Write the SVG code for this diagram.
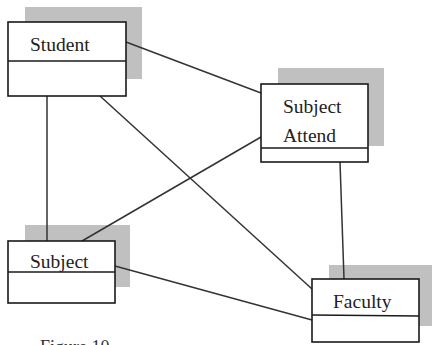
<svg xmlns="http://www.w3.org/2000/svg" width="432" height="345" viewBox="0 0 432 345">
<style>
.shadow{fill:#c0c0c0;stroke:none}
.box{fill:#fff;stroke:#1a1a1a;stroke-width:1.6}
.div{stroke:#1a1a1a;stroke-width:1.6}
.lbl{font-family:"Liberation Serif","Times New Roman",serif;font-size:19.5px;fill:#222}
.conn line{stroke:#333;stroke-width:1.5}
</style>
<rect width="432" height="345" fill="#fff"/>
<g id="shadows">
<rect class="shadow" x="25" y="7" width="117" height="72"/>
<rect class="shadow" x="278" y="68" width="106" height="78"/>
<rect class="shadow" x="25" y="225" width="105" height="62"/>
<rect class="shadow" x="329" y="265" width="103" height="61"/>
</g>
<g id="connectors" class="conn">
<line x1="126" y1="42" x2="261" y2="93"/>
<line x1="47" y1="96" x2="47" y2="241"/>
<line x1="100" y1="96" x2="312" y2="289"/>
<line x1="261" y1="137" x2="82" y2="241"/>
<line x1="340" y1="162" x2="344" y2="279"/>
<line x1="115" y1="266" x2="312" y2="320"/>
</g>
<g id="student">
<rect class="box" x="8" y="22" width="118" height="74"/>
<line class="div" x1="8" y1="61" x2="126" y2="61"/>
<text class="lbl" x="30" y="51">Student</text>
</g>
<g id="subject-attend">
<rect class="box" x="261" y="84" width="107" height="78"/>
<line class="div" x1="261" y1="148" x2="368" y2="148"/>
<text class="lbl" x="283" y="113">Subject</text>
<text class="lbl" x="283" y="142">Attend</text>
</g>
<g id="subject">
<rect class="box" x="8" y="241" width="107" height="62"/>
<line class="div" x1="8" y1="272" x2="115" y2="272"/>
<text class="lbl" x="30" y="268">Subject</text>
</g>
<g id="faculty">
<rect class="box" x="312" y="279" width="107" height="63"/>
<line class="div" x1="312" y1="315" x2="419" y2="316"/>
<text class="lbl" x="333" y="308">Faculty</text>
</g>
<text x="40" y="353" style="font-family:'Liberation Serif',serif;font-size:18px;fill:#333">Figure 10</text>
</svg>
